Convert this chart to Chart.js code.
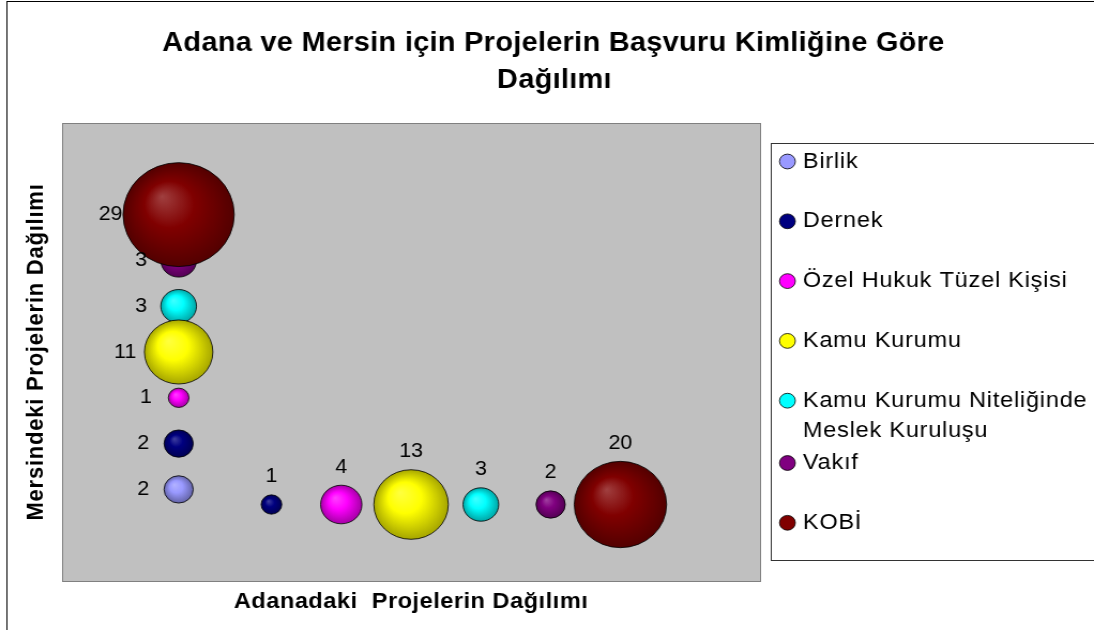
<!DOCTYPE html>
<html><head><meta charset="utf-8">
<script src="https://cdn.jsdelivr.net/npm/chart.js@4/dist/chart.umd.min.js"></script>
<style>
html,body{margin:0;padding:0;background:#fff;overflow:hidden;}
#wrap{width:1022px;height:630px;position:absolute;left:0;top:0;transform:scaleX(1.0704501);transform-origin:0 0;}
</style>
</head><body><div id="wrap"><canvas id="c" width="1022" height="630"></canvas></div>
<script>
const titleLines = ['Adana ve Mersin için Projelerin Başvuru Kimliğine Göre', 'Dağılımı'];
const xAxisTitle = 'Adanadaki  Projelerin Dağılımı';
const yAxisTitle = 'Mersindeki Projelerin Dağılımı';
const categories = ['Birlik', 'Dernek', 'Özel Hukuk Tüzel Kişisi', 'Kamu Kurumu', 'Kamu Kurumu Niteliğinde Meslek Kuruluşu', 'Vakıf', 'KOBİ'];
const seriesColors = ['#9999FF', '#000080', '#FF00FF', '#FFFF00', '#00FFFF', '#800080', '#800000'];
// project counts
const mersinValues = [2, 2, 1, 11, 3, 3, 29];
const adanaValues = [null, 1, 4, 13, 3, 2, 20];
// bubble coordinates (chart x / y values)
const mersinX = 0.67;
const mersinY = [1, 2, 3, 4, 5, 6, 7];
const adanaX = [null, 2, 3, 4, 5, 6, 7];
const adanaY = 0.67;
const axisMin = -1, axisMax = 9;

const FONT = "'Liberation Sans', Arial, Helvetica, sans-serif";
const K = 9.65; // bubble radius per sqrt(value)

function mix(hex, target, t) {
  const n = parseInt(hex.slice(1), 16);
  const r = (n >> 16) & 255, g = (n >> 8) & 255, b = n & 255;
  const f = v => Math.round(v + (target - v) * t);
  return 'rgb(' + f(r) + ',' + f(g) + ',' + f(b) + ')';
}
function fit(ctx, text, target) {
  ctx.letterSpacing = '0px';
  const w = ctx.measureText(text).width;
  const ls = (target - w) / text.length;
  ctx.letterSpacing = ls.toFixed(2) + 'px';
  return ls;
}

const datasets = categories.map((name, i) => {
  const data = [];
  if (mersinValues[i] != null) data.push({x: mersinX, y: mersinY[i], v: mersinValues[i], r: K * Math.sqrt(mersinValues[i]), side: 'm'});
  if (adanaValues[i] != null) data.push({x: adanaX[i], y: adanaY, v: adanaValues[i], r: K * Math.sqrt(adanaValues[i]), side: 'a'});
  const maxV = Math.max(...data.map(d => d.v));
  return {
    label: name,
    data: data,
    order: -maxV,
    borderColor: '#000000',
    borderWidth: 0.8,
    backgroundColor: (c) => {
      const base = seriesColors[c.datasetIndex];
      if (c.type !== 'data' || !c.raw) return base;
      const ch = c.chart, xs = ch.scales.x, ys = ch.scales.y;
      if (!xs || !ys) return base;
      const cx = xs.getPixelForValue(c.raw.x), cy = ys.getPixelForValue(c.raw.y), r = c.raw.r;
      if (!isFinite(cx) || !isFinite(cy) || !isFinite(r)) return base;
      const g = ch.ctx.createRadialGradient(cx - 0.3 * r, cy - 0.35 * r, 0, cx, cy, r);
      g.addColorStop(0, mix(base, 255, 0.25));
      g.addColorStop(0.45, base);
      g.addColorStop(1, mix(base, 0, 0.35));
      return g;
    }
  };
});

const decor = {
  id: 'decor',
  beforeDraw(chart) {
    const ctx = chart.ctx, a = chart.chartArea;
    ctx.save();
    ctx.fillStyle = '#fff';
    ctx.fillRect(0, 0, chart.width, chart.height);
    ctx.strokeStyle = '#000';
    ctx.lineWidth = 1;
    ctx.strokeRect(6.5, 1.5, 1200, 1200);
    ctx.fillStyle = '#C0C0C0';
    ctx.fillRect(a.left, a.top, a.right - a.left, a.bottom - a.top);
    ctx.strokeStyle = '#808080';
    ctx.strokeRect(a.left + 0.5, a.top + 0.5, a.right - a.left, a.bottom - a.top);
    // title
    ctx.fillStyle = '#000';
    ctx.font = 'bold 27px ' + FONT;
    ctx.textAlign = 'center';
    ctx.textBaseline = 'alphabetic';
    fit(ctx, titleLines[0], 731);
    ctx.fillText(titleLines[0], 517, 51);
    ctx.fillText(titleLines[1], 518, 88);
    // axis titles
    ctx.font = 'bold 22px ' + FONT;
    fit(ctx, xAxisTitle, 331);
    ctx.fillText(xAxisTitle, (a.left + a.right) / 2, 608);
    fit(ctx, yAxisTitle, 337);
    ctx.save();
    ctx.translate(40, (a.top + a.bottom) / 2);
    ctx.rotate(-Math.PI / 2);
    ctx.fillText(yAxisTitle, 0, 0);
    ctx.restore();
    ctx.restore();
  },
  afterDatasetsDraw(chart) {
    const ctx = chart.ctx;
    ctx.save();
    ctx.fillStyle = '#000';
    ctx.font = '20px ' + FONT;
    ctx.letterSpacing = '0px';
    ctx.textBaseline = 'middle';
    chart.data.datasets.forEach((ds, i) => {
      const meta = chart.getDatasetMeta(i);
      meta.data.forEach((el, j) => {
        const raw = ds.data[j];
        if (raw.side === 'm') {
          ctx.textAlign = 'right';
          ctx.fillText(String(raw.v), el.x - (18.7 + 0.65 * raw.r), el.y);
        } else {
          ctx.textAlign = 'center';
          ctx.fillText(String(raw.v), el.x, el.y - raw.r - 18);
        }
      });
    });
    // legend
    const lx = 720, ly = 143, lb = 560;
    ctx.strokeStyle = '#333';
    ctx.lineWidth = 1;
    ctx.strokeRect(lx + 0.5, ly + 0.5, 400, lb - ly);
    ctx.font = '22px ' + FONT;
    ctx.textAlign = 'left';
    fit(ctx, categories[2], 247.5);
    let extra = 0;
    categories.forEach((name, i) => {
      const y = 161.5 + i * 59.8 + extra;
      const words = name.split(' ');
      const lines = [];
      let cur = '';
      words.forEach(w => {
        const t = cur ? cur + ' ' + w : w;
        if (ctx.measureText(t).width > 285 && cur) { lines.push(cur); cur = w; } else cur = t;
      });
      lines.push(cur);
      ctx.beginPath();
      ctx.arc(735.6, y, 7.4, 0, Math.PI * 2);
      ctx.fillStyle = seriesColors[i];
      ctx.fill();
      ctx.strokeStyle = '#000';
      ctx.lineWidth = 0.8;
      ctx.stroke();
      ctx.fillStyle = '#000';
      lines.forEach((l, k) => ctx.fillText(l, 750, y + k * 30));
      if (lines.length > 1) extra += 2.5;
    });
    ctx.restore();
  }
};

new Chart(document.getElementById('c'), {
  type: 'bubble',
  data: {datasets: datasets},
  options: {
    responsive: false,
    animation: false,
    events: [],
    layout: {autoPadding: false, padding: {left: 58, top: 123, right: 312, bottom: 49}},
    scales: {
      x: {display: false, min: axisMin, max: axisMax},
      y: {display: false, min: axisMin, max: axisMax}
    },
    plugins: {legend: {display: false}, title: {display: false}, tooltip: {enabled: false}}
  },
  plugins: [decor]
});
</script>
</body></html>
